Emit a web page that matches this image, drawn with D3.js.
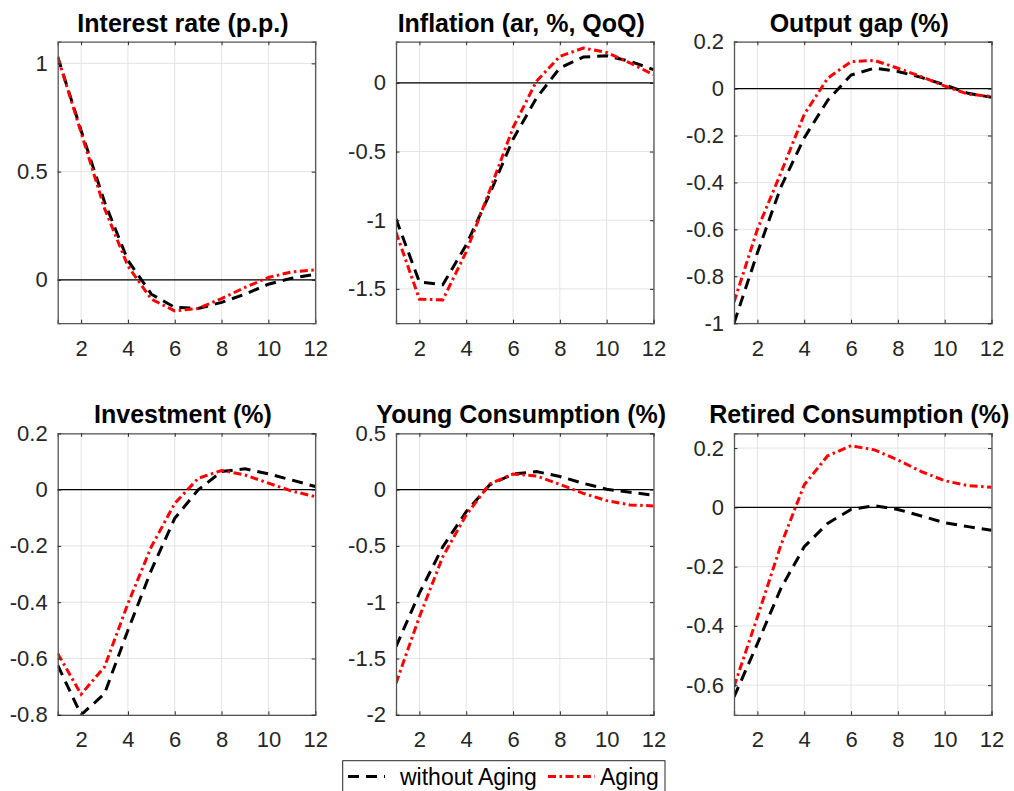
<!DOCTYPE html>
<html>
<head>
<meta charset="utf-8">
<script src="https://cdn.jsdelivr.net/npm/d3@7"></script>
<style>
  html, body { margin: 0; padding: 0; background: #fff; }
  svg { display: block; font-family: "Liberation Sans", Arial, Helvetica, sans-serif; }
</style>
</head>
<body>
<svg id="chart" width="1014" height="791"></svg>
<script>
// Quarters after the shock
const periods = [1, 2, 3, 4, 5, 6, 7, 8, 9, 10, 11, 12];
const xTicks = [2, 4, 6, 8, 10, 12];

// Impulse responses: baseline economy (no aging) vs. aging economy
const interestNoAging  = [1.03, 0.69, 0.36, 0.09, -0.066, -0.127, -0.132, -0.104, -0.066, -0.02, 0.008, 0.026];
const interestAging    = [1.03, 0.68, 0.33, 0.064, -0.089, -0.143, -0.132, -0.086, -0.035, 0.011, 0.037, 0.046];

const inflationNoAging = [-0.99, -1.45, -1.47, -1.18, -0.81, -0.41, -0.11, 0.109, 0.188, 0.198, 0.157, 0.097];
const inflationAging   = [-1.087, -1.575, -1.58, -1.23, -0.785, -0.326, 0.012, 0.193, 0.254, 0.222, 0.145, 0.06];

const outputNoAging    = [-1.0, -0.70, -0.42, -0.21, -0.05, 0.058, 0.087, 0.073, 0.048, 0.016, -0.02, -0.037];
const outputAging      = [-0.91, -0.60, -0.36, -0.11, 0.044, 0.115, 0.12, 0.087, 0.051, 0.011, -0.023, -0.034];

const investNoAging    = [-0.624, -0.80, -0.725, -0.50, -0.286, -0.102, -0.001, 0.064, 0.074, 0.056, 0.034, 0.011];
const investAging      = [-0.582, -0.727, -0.63, -0.405, -0.203, -0.049, 0.04, 0.068, 0.052, 0.023, -0.005, -0.025];

const youngNoAging     = [-1.395, -0.92, -0.507, -0.196, 0.041, 0.139, 0.16, 0.116, 0.056, 0.003, -0.024, -0.05];
const youngAging       = [-1.72, -1.13, -0.596, -0.225, 0.05, 0.139, 0.121, 0.047, -0.033, -0.098, -0.136, -0.145];

const retiredNoAging   = [-0.64, -0.46, -0.274, -0.133, -0.054, -0.007, 0.006, -0.007, -0.029, -0.052, -0.065, -0.077];
const retiredAging     = [-0.605, -0.37, -0.128, 0.076, 0.174, 0.208, 0.194, 0.16, 0.121, 0.09, 0.073, 0.068];

const panelTitles = ["Interest rate (p.p.)", "Inflation (ar, %, QoQ)", "Output gap (%)",
                     "Investment (%)", "Young Consumption (%)", "Retired Consumption (%)"];
const yDomains = [[-0.2, 1.1], [-1.75, 0.3], [-1, 0.2], [-0.8, 0.2], [-2, 0.5], [-0.7, 0.25]];
const yTickSets = [
  [0, 0.5, 1],
  [-1.5, -1, -0.5, 0],
  [-1, -0.8, -0.6, -0.4, -0.2, 0, 0.2],
  [-0.8, -0.6, -0.4, -0.2, 0, 0.2],
  [-2, -1.5, -1, -0.5, 0, 0.5],
  [-0.6, -0.4, -0.2, 0, 0.2]
];
const seriesNames = ["without Aging", "Aging"];

const panelData = [
  [interestNoAging, interestAging],
  [inflationNoAging, inflationAging],
  [outputNoAging, outputAging],
  [investNoAging, investAging],
  [youngNoAging, youngAging],
  [retiredNoAging, retiredAging]
];

// Layout of the 2x3 grid of axes
const colLeft = [57.7, 396, 734];
const colWidth = 257.5;
const rowTop = [41.7, 433.3];
const rowHeight = 281.5;

const styles = [
  { color: "#000000", dash: "11,7", width: 3 },
  { color: "#ff0000", dash: "8,3.5,2.5,3.5", width: 3 }
];

const svg = d3.select("#chart");
const fmt = v => String(Math.round(v * 100) / 100);

panelData.forEach((series, i) => {
  const col = i % 3, row = Math.floor(i / 3);
  const left = colLeft[col], top = rowTop[row];
  const x = d3.scaleLinear().domain([1, 12]).range([left, left + colWidth]);
  const y = d3.scaleLinear().domain(yDomains[i]).range([top + rowHeight, top]);

  const g = svg.append("g");

  // grid
  g.append("g").selectAll("line").data(xTicks).join("line")
    .attr("x1", d => x(d)).attr("x2", d => x(d))
    .attr("y1", top).attr("y2", top + rowHeight)
    .attr("stroke", "#e3e3e3").attr("stroke-width", 1);
  g.append("g").selectAll("line").data(yTickSets[i]).join("line")
    .attr("x1", left).attr("x2", left + colWidth)
    .attr("y1", d => y(d)).attr("y2", d => y(d))
    .attr("stroke", "#e3e3e3").attr("stroke-width", 1);

  // zero reference line
  g.append("line")
    .attr("x1", left).attr("x2", left + colWidth)
    .attr("y1", y(0)).attr("y2", y(0))
    .attr("stroke", "#000").attr("stroke-width", 1.1);

  // series
  const clipId = "clip" + i;
  svg.append("clipPath").attr("id", clipId).append("rect")
    .attr("x", left).attr("y", top).attr("width", colWidth).attr("height", rowHeight);
  const line = d3.line().x((d, k) => x(periods[k])).y(d => y(d));
  series.forEach((vals, s) => {
    g.append("path")
      .attr("clip-path", `url(#${clipId})`)
      .attr("d", line(vals))
      .attr("fill", "none")
      .attr("stroke", styles[s].color)
      .attr("stroke-width", styles[s].width)
      .attr("stroke-dasharray", styles[s].dash);
  });

  // axes (inward ticks, boxed)
  const axisColor = "#555";
  const bottom = g.append("g").attr("transform", `translate(0,${top + rowHeight})`)
    .call(d3.axisBottom(x).tickValues(xTicks).tickSize(-3.5).tickPadding(17).tickFormat(fmt));
  g.append("g").attr("transform", `translate(${left},0)`)
    .call(d3.axisLeft(y).tickValues(yTickSets[i]).tickSize(-3.5).tickPadding(10).tickFormat(fmt));
  g.append("g").attr("transform", `translate(0,${top})`)
    .call(d3.axisTop(x).tickValues(xTicks).tickSize(-3.5).tickFormat(""));
  g.append("g").attr("transform", `translate(${left + colWidth},0)`)
    .call(d3.axisRight(y).tickValues(yTickSets[i]).tickSize(-3.5).tickFormat(""));
  g.selectAll(".domain").attr("stroke", axisColor).attr("stroke-width", 1.3);
  g.selectAll(".tick line").attr("stroke", "#262626");
  g.selectAll(".tick text").attr("fill", "#262626").style("font-size", "22px");
  bottom.selectAll(".tick text").attr("dy", "0.71em");

  // panel title
  g.append("text")
    .attr("x", left + colWidth / 2 - 3.5)
    .attr("y", top - 10)
    .attr("text-anchor", "middle")
    .style("font-size", "25px")
    .style("font-weight", "bold")
    .attr("fill", "#000")
    .text(panelTitles[i]);
});

// legend
const legend = svg.append("g");
legend.append("rect")
  .attr("x", 342.7).attr("y", 760.7).attr("width", 322.3).attr("height", 40)
  .attr("fill", "#fff").attr("stroke", "#262626").attr("stroke-width", 1);
const legendItems = [
  { x0: 348, x1: 385, tx: 400 },
  { x0: 548, x1: 595, tx: 600 }
];
legendItems.forEach((it, s) => {
  legend.append("line")
    .attr("x1", it.x0).attr("x2", it.x1).attr("y1", 776.5).attr("y2", 776.5)
    .attr("stroke", styles[s].color).attr("stroke-width", styles[s].width)
    .attr("stroke-dasharray", styles[s].dash);
  legend.append("text")
    .attr("x", it.tx).attr("y", 784.5)
    .style("font-size", "23px")
    .attr("fill", "#000")
    .text(seriesNames[s]);
});
</script>
</body>
</html>
